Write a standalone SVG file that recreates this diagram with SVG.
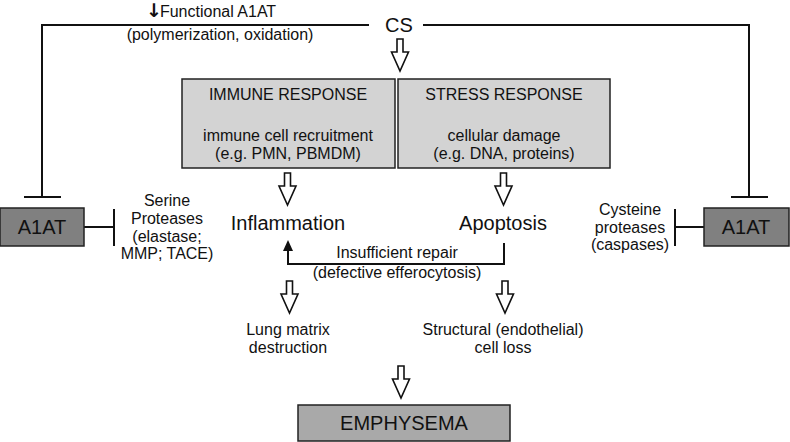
<svg xmlns="http://www.w3.org/2000/svg" width="790" height="442" viewBox="0 0 790 442">
<style>
text{font-family:"Liberation Sans",Arial,sans-serif;fill:#111;text-anchor:middle}
.s16{font-size:16px}
.s20{font-size:20px}
.ln{stroke:#111;stroke-width:2;fill:none}
.box{stroke:#222;stroke-width:1.5}
.harrow{fill:#fff;stroke:#111;stroke-width:1.6;stroke-linejoin:miter}
</style>
<defs>
<path id="ha" d="M-3,0 H3 V13 H8.5 L0,32 L-8.5,13 H-3 Z"/>
</defs>
<g id="connectors">
<path class="ln" d="M369,25 H42 V197"/>
<path class="ln" d="M24,197 H61"/>
<path class="ln" d="M423,25 H749 V197"/>
<path class="ln" d="M731,197 H768"/>
<path class="ln" d="M84,227 H114"/>
<path class="ln" d="M114,209 V246"/>
<path class="ln" d="M675,227 H704"/>
<path class="ln" d="M675,209 V246"/>
<path class="ln" d="M504,243 V264 H288 V249"/>
<path d="M288,240 L293,251 L283,251 Z" fill="#111"/>
<use href="#ha" class="harrow" x="400" y="39"/>
<use href="#ha" class="harrow" x="287.5" y="173"/>
<use href="#ha" class="harrow" x="503.5" y="173"/>
<use href="#ha" class="harrow" x="289.5" y="281"/>
<use href="#ha" class="harrow" x="505" y="281"/>
<use href="#ha" class="harrow" x="401" y="366"/>
</g>
<g id="cs"><text class="s20" x="399" y="32">CS</text></g>
<g id="functional">
<text class="s16" x="160" y="17" style="text-anchor:start"><tspan style="font-family:'DejaVu Sans',sans-serif;font-size:19px;font-weight:bold" dx="-14">↓</tspan><tspan dx="-2">Functional A1AT</tspan></text>
<text class="s16" x="220" y="40">(polymerization, oxidation)</text>
</g>
<g id="immune">
<rect class="box" x="182" y="79" width="213" height="89" fill="#d3d3d3"/>
<text class="s16" x="288" y="100">IMMUNE RESPONSE</text>
<text class="s16" x="288" y="141">immune cell recruitment</text>
<text class="s16" x="288" y="159">(e.g. PMN, PBMDM)</text>
</g>
<g id="stress">
<rect class="box" x="398" y="79" width="212" height="89" fill="#d3d3d3"/>
<text class="s16" x="504" y="100">STRESS RESPONSE</text>
<text class="s16" x="504" y="141">cellular damage</text>
<text class="s16" x="504" y="159">(e.g. DNA, proteins)</text>
</g>
<g id="a1at-left">
<rect class="box" x="0" y="208" width="84" height="38" fill="#808080"/>
<text class="s20" x="42" y="234">A1AT</text>
</g>
<g id="a1at-right">
<rect class="box" x="704" y="208" width="85" height="38" fill="#808080"/>
<text class="s20" x="746" y="234">A1AT</text>
</g>
<g id="serine">
<text class="s16" x="167" y="206">Serine</text>
<text class="s16" x="167" y="224">Proteases</text>
<text class="s16" x="167" y="241.5">(elastase;</text>
<text class="s16" x="167" y="259">MMP; TACE)</text>
</g>
<g id="cysteine">
<text class="s16" x="630" y="215">Cysteine</text>
<text class="s16" x="630" y="233">proteases</text>
<text class="s16" x="630" y="250">(caspases)</text>
</g>
<g id="inflammation"><text class="s20" x="288" y="230">Inflammation</text></g>
<g id="apoptosis"><text class="s20" x="503" y="230">Apoptosis</text></g>
<g id="repair">
<text class="s16" x="397" y="258">Insufficient repair</text>
<text class="s16" x="397" y="278">(defective efferocytosis)</text>
</g>
<g id="lung">
<text class="s16" x="288" y="335">Lung matrix</text>
<text class="s16" x="288" y="353">destruction</text>
</g>
<g id="structural">
<text class="s16" x="503" y="335">Structural (endothelial)</text>
<text class="s16" x="503" y="353">cell loss</text>
</g>
<g id="emphysema">
<rect class="box" x="298" y="405" width="212" height="36" fill="#a9a9a9"/>
<text class="s20" x="404" y="430">EMPHYSEMA</text>
</g>
</svg>
